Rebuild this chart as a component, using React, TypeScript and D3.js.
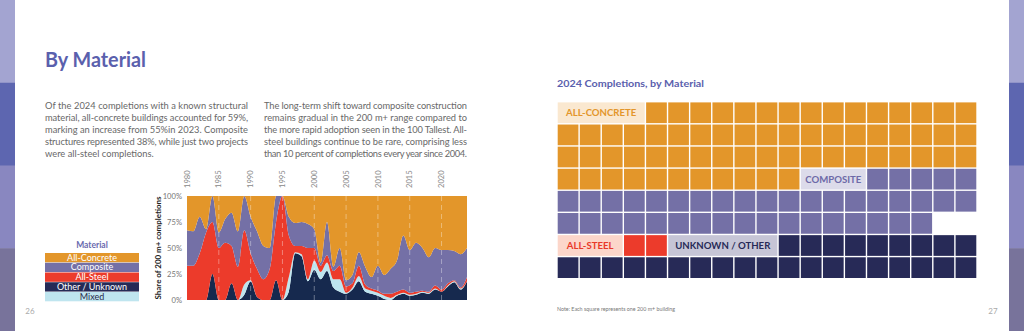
import React from "react";
import * as d3 from "d3";

// ---------- Area chart data (share of 200 m+ completions, %) ----------
const years = [1980, 1981, 1982, 1983, 1984, 1985, 1986, 1987, 1988, 1989, 1990, 1991, 1992, 1993, 1994, 1995, 1996, 1997, 1998, 1999, 2000, 2001, 2002, 2003, 2004, 2005, 2006, 2007, 2008, 2009, 2010, 2011, 2012, 2013, 2014, 2015, 2016, 2017, 2018, 2019, 2020, 2021, 2022, 2023, 2024];
const otherUnknown = [0, 0, 0, 0, 25, 0, 0, 16, 0, 5, 18, 3, 0, 0, 19, 0, 8, 45, 42, 18, 29, 20, 28, 12, 8, 6, 10, 18, 8, 6, 4, 1, 0, 4, 6, 4, 5, 7, 6, 10, 8, 13, 17, 10, 18];
const mixed = [0, 0, 0, 0, 0, 0, 0, 0, 0, 10, 1, 0, 0, 0, 0, 0, 14, 1, 2, 2, 9, 7, 8, 8, 12, 1, 2, 5, 3, 3, 3, 3, 2, 1, 1, 1, 1, 1, 1, 1, 0, 1, 1, 1, 0];
const allSteel = [33, 33, 45, 65, 50, 50, 55, 36, 32, 52, 26, 27, 20, 30, 56, 100, 40, 6, 8, 30, 12, 6, 7, 8, 13, 6, 4, 10, 4, 2, 2, 2, 4, 3, 3, 2, 2, 1, 1, 3, 2, 2, 1, 1, 4];
const composite = [34, 33, 35, 3, 25, 15, 23, 32, 34, 33, 35, 36, 32, 20, 25, 0, 18, 22, 23, 23, 18, 3, 32, 4, 17, 6, 8, 13, 17, 11, 24, 18, 24, 30, 52, 41, 47, 41, 33, 36, 38, 32, 28, 32, 28];
const allConcrete = [33, 34, 20, 32, 0, 35, 22, 16, 34, 0, 20, 34, 48, 50, 0, 0, 20, 26, 25, 27, 32, 64, 25, 68, 50, 81, 76, 54, 68, 78, 67, 76, 70, 62, 38, 52, 45, 50, 59, 50, 52, 52, 53, 56, 50];

const yearTicks = [1980, 1985, 1990, 1995, 2000, 2005, 2010, 2015, 2020];
const gridYears = [1985, 1990, 1995, 2000, 2005, 2010, 2015, 2020];
const shareTicks = [0, 0.25, 0.5, 0.75, 1];

const legendLabels = ["All-Concrete", "Composite", "All-Steel", "Other / Unknown", "Mixed"];
const legendColors = ["#e3962a", "#7470a6", "#ec3b2b", "#262a56", "#bfe5ef"];
const legendText = ["#ffffff", "#ffffff", "#ffffff", "#ffffff", "#2a2a4a"];

const stackKeys = ["other", "mixed", "steel", "composite", "concrete"];
const stackColors = ["#16294e", "#bde5ef", "#ec3b2b", "#7470a6", "#e3962a"];

// ---------- Waffle data (2024 completions) ----------
const waffleCategories = ["All-Concrete", "Composite", "All-Steel", "Unknown / Other"];
const waffleCounts = [64, 41, 2, 28];
const waffleLabels = ["ALL-CONCRETE", "COMPOSITE", "ALL-STEEL", "UNKNOWN / OTHER"];
const waffleLabelSpan = [4, 3, 3, 5];
const waffleNewRow = [false, false, true, false];
const waffleColors = ["#e3962a", "#7470a6", "#ec3b2b", "#272a57"];
const waffleLabelBg = ["#fae8d0", "#dcdbea", "#fcd6ca", "#c6c5d6"];
const waffleLabelColor = ["#e3962a", "#6d6aa8", "#e83a2a", "#272a57"];

const para1 = [
  "Of the 2024 completions with a known structural",
  "material, all-concrete buildings accounted for 59%,",
  "marking an increase from 55%in 2023. Composite",
  "structures represented 38%, while just two projects",
  "were all-steel completions.",
];
const para2 = [
  "The long-term shift toward composite construction",
  "remains gradual in the 200 m+ range compared to",
  "the more rapid adoption seen in the 100 Tallest. All-",
  "steel buildings continue to be rare, comprising less",
  "than 10 percent of completions every year since 2004.",
];

const sideColors = ["#a3a4d1", "#5d66b0", "#8987c0", "#78739b"];

export default function App() {
  const W = 1024;
  const H = 331;
  const FONT = "Lato, 'Open Sans', sans-serif";

  // area chart
  const x = d3.scaleLinear().domain([1980, 2024]).range([187, 467]);
  const y = d3.scaleLinear().domain([0, 1]).range([300, 196]);
  const rows = years.map((yr, i) => ({
    year: yr,
    other: otherUnknown[i],
    mixed: mixed[i],
    steel: allSteel[i],
    composite: composite[i],
    concrete: allConcrete[i],
  }));
  const stacked = d3.stack<any>().keys(stackKeys).offset(d3.stackOffsetExpand)(rows);
  const area = d3
    .area<any>()
    .x((d) => x(d.data.year))
    .y0((d) => y(d[0]))
    .y1((d) => y(d[1]))
    .curve(d3.curveMonotoneX);

  // waffle
  const cols = 19;
  const nrows = 8;
  const gx = d3.scaleBand<number>().domain(d3.range(cols)).range([557, 977]);
  const gy = d3.scaleBand<number>().domain(d3.range(nrows)).range([101.7, 278.7]);
  const cw = gx.bandwidth();
  const ch = gy.bandwidth();
  const gap = 1.4;
  const labels: any[] = [];
  const cells: any[] = [];
  let idx = 0;
  waffleCategories.forEach((c, i) => {
    if (waffleNewRow[i] && idx % cols !== 0) idx = Math.ceil(idx / cols) * cols;
    labels.push({ i, start: idx, span: waffleLabelSpan[i] });
    idx += waffleLabelSpan[i];
    for (let k = 0; k < waffleCounts[i]; k++) {
      cells.push({ i, idx });
      idx++;
    }
  });

  return (
    <div style={{ position: "absolute", left: 0, top: 0, width: W, height: H }}>
      <svg width={W} height={H} style={{ display: "block", background: "#fff" }} fontFamily={FONT}>
        {/* side bars */}
        {sideColors.map((c, i) => (
          <g key={i}>
            <rect x={0} y={i * 82.75} width={15} height={82.75 + 0.5} fill={c} />
            <rect x={1009} y={i * 82.75} width={15} height={82.75 + 0.5} fill={c} />
          </g>
        ))}

        {/* title */}
        <text x={45} y={67} fontSize={20.5} fontWeight={700} fill="#5a60ad" textLength={101} lengthAdjust="spacingAndGlyphs">
          By Material
        </text>

        {/* paragraphs */}
        {para1.map((t, i) => (
          <text key={"p1" + i} x={45} y={109 + i * 12} fontSize={9.3} fill="#686868"
            {...(i < para1.length - 1 ? { textLength: 203, lengthAdjust: "spacing" } : {})}>
            {t}
          </text>
        ))}
        {para2.map((t, i) => (
          <text key={"p2" + i} x={264} y={109 + i * 12} fontSize={9.3} fill="#686868" textLength={203} lengthAdjust="spacing">
            {t}
          </text>
        ))}

        {/* legend */}
        <text x={92} y={248} textAnchor="middle" fontSize={8.5} fontWeight={700} fill="#6a6aae">Material</text>
        {legendLabels.map((l, i) => (
          <g key={l}>
            <rect x={45} y={253 + i * 9.75} width={94} height={9.3} fill={legendColors[i]} />
            <text x={92} y={253 + i * 9.75 + 7.7} textAnchor="middle" fontSize={9} fill={legendText[i]}>{l}</text>
          </g>
        ))}

        {/* area chart */}
        {stacked.map((s, i) => (
          <path key={s.key} d={area(s as any) || ""} fill={stackColors[i]} />
        ))}
        {gridYears.map((yr) => (
          <line key={yr} x1={x(yr)} x2={x(yr)} y1={196} y2={300} stroke="#fff" strokeOpacity={0.45} strokeWidth={0.8} strokeDasharray="5,4" />
        ))}
        {yearTicks.map((yr) => (
          <text key={yr} transform={`translate(${x(yr) + 2.6},188) rotate(-90)`} fontSize={7.6} fill="#888">{yr}</text>
        ))}
        {shareTicks.map((v) => (
          <text key={v} x={182} y={y(v)} dy="0.35em" textAnchor="end" fontSize={7.6} fill="#777">{d3.format(".0%")(v)}</text>
        ))}
        <text transform="translate(161,248) rotate(-90)" textAnchor="middle" fontSize={8.4} fontWeight={700} fill="#222" textLength={103} lengthAdjust="spacingAndGlyphs">
          Share of 200 m+ completions
        </text>

        {/* page numbers */}
        <text x={30} y={314} textAnchor="middle" fontSize={8} fill="#aaa">26</text>
        <text x={993} y={314} textAnchor="middle" fontSize={8} fill="#aaa">27</text>

        {/* waffle */}
        <text x={557} y={86.5} fontSize={10} fontWeight={700} fill="#5a60ad" textLength={147} lengthAdjust="spacingAndGlyphs">
          2024 Completions, by Material
        </text>
        {cells.map((c, k) => (
          <rect key={"c" + k} x={gx(c.idx % cols)! + gap / 2} y={gy(Math.floor(c.idx / cols))! + gap / 2}
            width={cw - gap} height={ch - gap} fill={waffleColors[c.i]} />
        ))}
        {labels.map((l) => {
          const col = l.start % cols;
          const row = Math.floor(l.start / cols);
          const lx = gx(col)! + gap / 2;
          const ly = gy(row)! + gap / 2;
          const lw = l.span * cw - gap;
          return (
            <g key={"l" + l.i}>
              <rect x={lx} y={ly} width={lw} height={ch - gap} fill={waffleLabelBg[l.i]} />
              <text x={lx + lw / 2} y={ly + (ch - gap) / 2} dy="0.36em" textAnchor="middle" fontSize={9.6} fontWeight={700} fill={waffleLabelColor[l.i]}>
                {waffleLabels[l.i]}
              </text>
            </g>
          );
        })}
        <text x={557} y={311} fontSize={5.6} fill="#777" textLength={118} lengthAdjust="spacingAndGlyphs">
          Note: Each square represents one 200 m+ building
        </text>
      </svg>
    </div>
  );
}
